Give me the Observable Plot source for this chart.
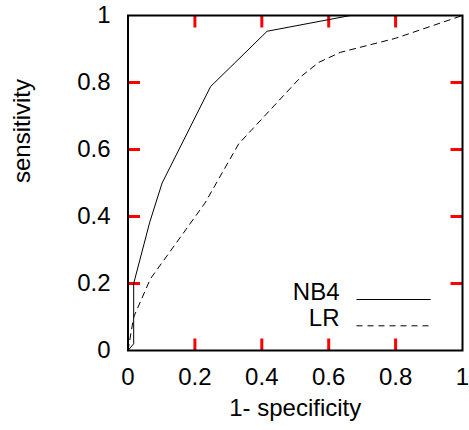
<!DOCTYPE html>
<html>
<head>
<meta charset="utf-8">
<script src="https://cdn.jsdelivr.net/npm/d3@7"></script>
<script src="https://cdn.jsdelivr.net/npm/@observablehq/plot@0.6"></script>
<style>
  body { margin: 0; background: #fff; }
  svg { display: block; }
</style>
</head>
<body>
<div id="chart"></div>
<script>
// ROC curves
const nb4X = [0, 0.017, 0.017, 0.065, 0.102, 0.247, 0.416, 0.665, 1];
const nb4Y = [0, 0.02, 0.2, 0.383, 0.5, 0.788, 0.953, 1, 1];
const lrX = [0, 0.017, 0.067, 0.23, 0.331, 0.52, 0.57, 0.635, 0.8, 1];
const lrY = [0, 0.1, 0.214, 0.44, 0.617, 0.82, 0.86, 0.89, 0.932, 1];
const tickValues = [0, 0.2, 0.4, 0.6, 0.8, 1];
const tickLabels = ["0", "0.2", "0.4", "0.6", "0.8", "1"];
const innerTicks = [0.2, 0.4, 0.6, 0.8];
const seriesNames = ["NB4", "LR"];
const xTitle = "1- specificity";
const yTitle = "sensitivity";

const nb4 = nb4X.map((x, i) => ({x, y: nb4Y[i]}));
const lr = lrX.map((x, i) => ({x, y: lrY[i]}));
const fmt = d => tickLabels[tickValues.indexOf(d)];
const tickData = innerTicks.map(v => ({v}));

const plotW = 469, plotH = 430;
const mL = 127.5, mR = 7, mT = 15, mB = 80;
const innerW = plotW - mL - mR, innerH = plotH - mT - mB;
const tickLen = 12;
const tickFracY = tickLen / innerH;
const tickFracX = tickLen / innerW;
const dash = "6,5";

const chart = Plot.plot({
  width: plotW,
  height: plotH,
  marginLeft: mL,
  marginRight: mR,
  marginTop: mT,
  marginBottom: mB,
  style: {fontFamily: "'Liberation Sans', Arial, Helvetica, sans-serif", fontSize: "24px", background: "white", color: "black", overflow: "visible"},
  x: {domain: [0, 1]},
  y: {domain: [0, 1]},
  marks: [
    Plot.axisX({ticks: tickValues, tickFormat: fmt, tickSize: 0, tickPadding: 17, label: null, fontSize: 24}),
    Plot.axisY({ticks: tickValues, tickFormat: fmt, tickSize: 0, tickPadding: 17.5, label: null, fontSize: 24}),
    // inward ticks on all four sides
    Plot.link(tickData, {x1: "v", x2: "v", y1: () => 0, y2: () => tickFracY, stroke: "red", strokeWidth: 3}),
    Plot.link(tickData, {x1: "v", x2: "v", y1: () => 1 - tickFracY, y2: () => 1, stroke: "red", strokeWidth: 3}),
    Plot.link(tickData, {y1: "v", y2: "v", x1: () => 0, x2: () => tickFracX, stroke: "red", strokeWidth: 3}),
    Plot.link(tickData, {y1: "v", y2: "v", x1: () => 1 - tickFracX, x2: () => 1, stroke: "red", strokeWidth: 3}),
    // curves
    Plot.line(nb4, {x: "x", y: "y", stroke: "black", strokeWidth: 1}),
    Plot.line(lr, {x: "x", y: "y", stroke: "black", strokeWidth: 1, strokeDasharray: dash}),
    // legend
    Plot.text([seriesNames[0]], {text: d => d, frameAnchor: "bottom-right", dx: -123, dy: -51, textAnchor: "end", fontSize: 24, fill: "black"}),
    Plot.text([seriesNames[1]], {text: d => d, frameAnchor: "bottom-right", dx: -123, dy: -24.7, textAnchor: "end", fontSize: 24, fill: "black"}),
    Plot.ruleY([seriesNames[0]], {y: () => 0, dy: -51, insetLeft: 229, insetRight: 31.3, stroke: "black", strokeWidth: 1}),
    Plot.ruleY([seriesNames[1]], {y: () => 0, dy: -24.7, insetLeft: 229, insetRight: 31.3, stroke: "black", strokeWidth: 1, strokeDasharray: dash}),
    // axis titles
    Plot.text([yTitle], {text: d => d, frameAnchor: "left", dx: -105.5, rotate: -90, fontSize: 24, fill: "black"}),
    Plot.text([xTitle], {text: d => d, frameAnchor: "bottom", dy: 65.5, fontSize: 24, fill: "black"}),
    Plot.frame({stroke: "black", strokeWidth: 2})
  ]
});
document.getElementById("chart").appendChild(chart);
</script>
</body>
</html>
